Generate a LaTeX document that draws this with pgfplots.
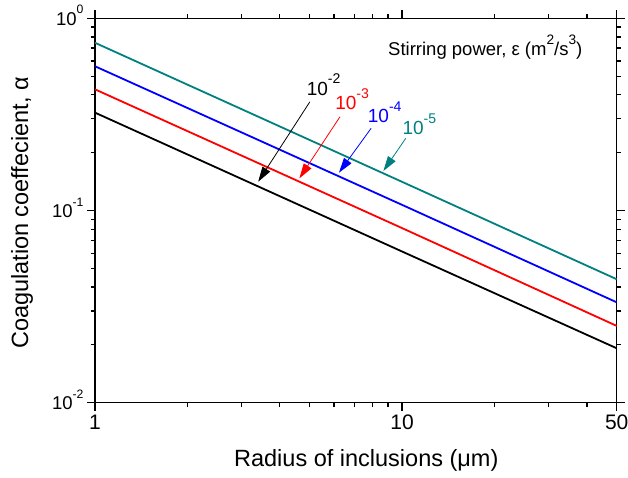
\documentclass[border=0pt]{standalone}
\usepackage{fontspec}
\setmainfont{Liberation Sans}
\usepackage{graphicx}
\usepackage{pgfplots}
\pgfplotsset{compat=1.18}
\usetikzlibrary{arrows.meta,calc}
\definecolor{tealc}{RGB}{0,128,128}
\newcommand\supa[1]{\raisebox{0.6em}{\scalebox{0.66}{#1}}}
\newcommand\supb[1]{\raisebox{0.58em}{\scalebox{0.74}{#1}}}
\begin{document}
\begin{tikzpicture}
\begin{axis}[
  name=ax,
  xmode=log, ymode=log,
  scale only axis,
  width=521.7pt, height=384.4pt,
  xmin=1, xmax=50, ymin=0.01, ymax=1,
  xtick={1,10,50}, xticklabels={1,10,50},
  minor xtick={2,3,4,5,6,7,8,9,20,30,40},
  ytick={0.01,0.1,1},
  yticklabels={10\supa{-2},10\supa{-1},10\supa{0}},
  minor ytick={0.02,0.03,0.04,0.05,0.06,0.07,0.08,0.09,0.2,0.3,0.4,0.5,0.6,0.7,0.8,0.9},
  tick align=outside,
  major tick length=8pt, minor tick length=4.5pt,
  every tick/.style={black, line width=1.2pt},
  axis line style={line width=1.5pt},
  x tick label style={font=\fontsize{21}{21}\selectfont, yshift=-1pt},
  y tick label style={font=\fontsize{18.5}{18.5}\selectfont, yshift=3pt},
  xlabel={Radius of inclusions (μm)},
  ylabel={Coagulation coeffecient, α},
  every axis x label/.style={at={(axis description cs:0.52,-0.1665)}, anchor=base, font=\fontsize{23.5}{23.5}\selectfont},
  every axis y label/.style={at={(axis description cs:-0.1284,0.4935)}, rotate=90, anchor=base, font=\fontsize{23.5}{23.5}\selectfont},
  clip=false,
]
\addplot[tealc, line width=1.8pt] coordinates {(1,0.746) (10,0.141) (50,0.0439)};
\addplot[blue, line width=1.8pt] coordinates {(1,0.563) (10,0.107) (50,0.0333)};
\addplot[red, line width=1.8pt] coordinates {(1,0.427) (10,0.0810) (50,0.0251)};
\addplot[black, line width=1.8pt] coordinates {(1,0.323) (10,0.0612) (50,0.0192)};

\draw[black, line width=0.8pt, -{Triangle[length=15pt,width=9pt]}] (axis cs:5.01,0.368) -- (axis cs:3.40,0.1412);
\draw[red, line width=0.8pt, -{Triangle[length=15pt,width=9pt]}] (axis cs:6.28,0.3076) -- (axis cs:4.63,0.147);
\draw[blue, line width=0.8pt, -{Triangle[length=15pt,width=9pt]}] (axis cs:7.93,0.2677) -- (axis cs:6.23,0.1573);
\draw[tealc, line width=0.8pt, -{Triangle[length=15pt,width=9pt]}] (axis cs:10.28,0.2375) -- (axis cs:8.69,0.1605);

\node[black, anchor=base west, inner sep=0pt, font=\fontsize{19}{19}\selectfont] at (axis cs:4.89,0.399) {10\supb{-2}};
\node[red, anchor=base west, inner sep=0pt, font=\fontsize{19}{19}\selectfont] at (axis cs:6.05,0.336) {10\supb{-3}};
\node[blue, anchor=base west, inner sep=0pt, font=\fontsize{19}{19}\selectfont] at (axis cs:7.73,0.2876) {10\supb{-4}};
\node[tealc, anchor=base west, inner sep=0pt, font=\fontsize{19}{19}\selectfont] at (axis cs:10.02,0.250) {10\supb{-5}};

\node[black, anchor=base west, inner sep=0pt, font=\fontsize{18.5}{18.5}\selectfont] at (axis cs:9.0,0.644) {Stirring power, ε (m\supb{2}/s\supb{3})};
\end{axis}
\pgfresetboundingbox
\path[use as bounding box] ($(ax.south west)+(-95pt,-74.3pt)$) rectangle ($(ax.north east)+(11.3pt,18.3pt)$);
\end{tikzpicture}
\end{document}
